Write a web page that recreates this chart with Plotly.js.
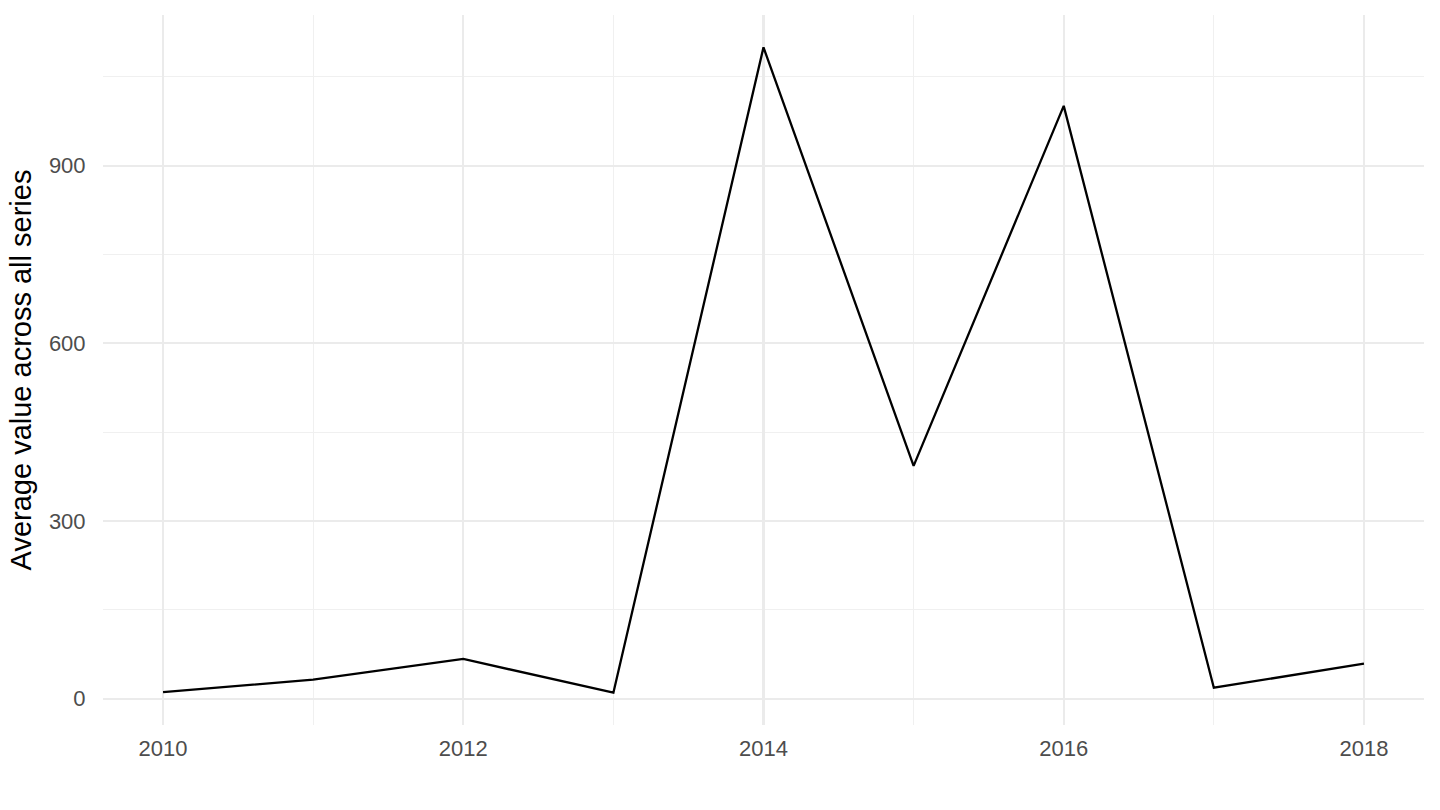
<!DOCTYPE html>
<html>
<head>
<meta charset="utf-8">
<script src="https://cdn.plot.ly/plotly-3.0.1.min.js"></script>
<style>html,body{margin:0;padding:0;background:#fff;}#chart{width:1440px;height:810px;}</style>
</head>
<body>
<div id="chart"></div>
<script>
const years = [2010, 2011, 2012, 2013, 2014, 2015, 2016, 2017, 2018];
const avgValues = [11, 32, 67, 10, 1100, 393, 1001, 18.5, 59];
const yTickVals = [0, 300, 600, 900];
const xTickVals = [2010, 2012, 2014, 2016, 2018];

const ymin = Math.min(...avgValues), ymax = Math.max(...avgValues);
const yPad = (ymax - ymin) * 0.05;
const xPad = (years[years.length-1] - years[0]) * 0.05;

const trace = {
  x: years, y: avgValues, type: 'scatter', mode: 'lines',
  line: {color: '#000000', width: 2.3}, hoverinfo: 'skip'
};

const layout = {
  width: 1440, height: 810,
  paper_bgcolor: '#ffffff', plot_bgcolor: '#ffffff',
  margin: {l: 103, r: 16, t: 15, b: 85},
  showlegend: false,
  font: {family: '"Liberation Sans", Arial, sans-serif', color: '#4d4d4d', size: 22},
  xaxis: {
    range: [years[0] - xPad, years[years.length-1] + xPad],
    tickvals: xTickVals, ticktext: xTickVals.map(String),
    showgrid: true, gridcolor: '#ebebeb', gridwidth: 2.2,
    minor: {dtick: 1, tick0: 2010, showgrid: true, gridcolor: '#f0f0f0', gridwidth: 1.1},
    zeroline: false, showline: false,
    ticks: 'outside', ticklen: 4, tickcolor: 'rgba(0,0,0,0)',
    tickfont: {size: 22, color: '#4d4d4d'}
  },
  yaxis: {
    range: [ymin - yPad, ymax + yPad],
    tickvals: yTickVals, ticktext: yTickVals.map(String),
    showgrid: true, gridcolor: '#ebebeb', gridwidth: 2.2,
    minor: {dtick: 150, tick0: 0, showgrid: true, gridcolor: '#f0f0f0', gridwidth: 1.1},
    zeroline: false, showline: false,
    ticks: 'outside', ticklen: 12, tickcolor: 'rgba(0,0,0,0)',
    tickfont: {size: 22, color: '#4d4d4d'},
    title: {text: 'Average value across all series', font: {size: 29, color: '#000000'}, standoff: 8}
  }
};

Plotly.newPlot('chart', [trace], layout, {displayModeBar: false, staticPlot: true});
</script>
</body>
</html>
